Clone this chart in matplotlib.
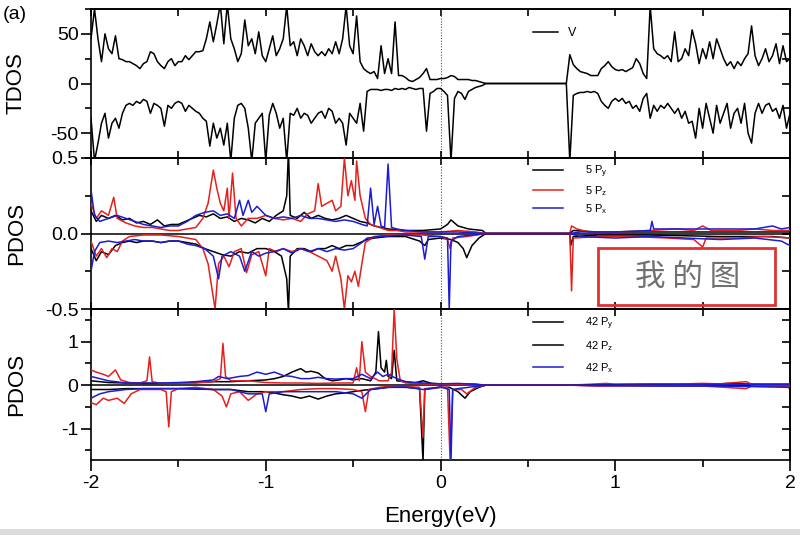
import numpy as np
import matplotlib
matplotlib.use('Agg')
import matplotlib.pyplot as plt
from matplotlib.ticker import MultipleLocator, FormatStrFormatter
from matplotlib.lines import Line2D
from matplotlib.patches import Rectangle

plt.rcParams['font.family'] = ['Liberation Sans', 'DejaVu Sans']
plt.rcParams['mathtext.fontset'] = 'custom'
plt.rcParams['mathtext.rm'] = 'Liberation Sans'
plt.rcParams['axes.unicode_minus'] = False

# energy grid for the total DOS (eV)
energy = np.round(np.arange(-2.0, 2.0001, 0.02), 2)

# TDOS spin up / spin down (E = -2.00 ... 2.00 step 0.02)
tdos_up = [
    45, 75, 45, 22, 50, 35, 30, 48, 25, 24,
    22, 22, 20, 18, 15, 20, 22, 32, 30, 22,
    18, 15, 22, 25, 18, 22, 22, 28, 24, 28,
    32, 32, 33, 45, 62, 42, 60, 80, 40, 80,
    45, 35, 22, 30, 64, 38, 45, 30, 52, 28,
    22, 35, 48, 28, 35, 45, 78, 38, 42, 28,
    45, 38, 28, 40, 32, 28, 32, 28, 35, 30,
    42, 30, 45, 78, 38, 30, 68, 22, 15, 12,
    10, 12, 5, 38, 10, 25, 10, 62, 8, 8,
    6, 3, 2, 4, 6, 10, 15, 4, 4, 4, 5,
    5, 6, 8, 7, 4, 4, 4, 4, 3, 3, 2, 1, 0,
    0, 0, 0, 0, 0, 0, 0, 0, 0, 0, 0, 0, 0, 0, 0, 0, 0, 0, 0, 0, 0, 0, 0,
    29, 19, 15, 12, 11, 10, 8, 8, 8, 15,
    18, 22, 17, 14, 13, 14, 12, 14, 16, 25,
    20, 10, 5, 78, 35, 30, 28, 25, 28, 22,
    52, 22, 25, 35, 28, 54, 40, 20, 35, 25,
    42, 25, 45, 35, 25, 18, 22, 15, 22, 18,
    25, 30, 58, 28, 18, 25, 35, 22, 28, 40,
    20, 38, 22, 25,
]
tdos_dn = [
    -35, -78, -60, -40, -30, -55, -40, -35, -45, -30,
    -22, -20, -22, -18, -20, -16, -18, -30, -20, -22,
    -25, -43, -22, -25, -20, -18, -20, -28, -22, -25,
    -28, -30, -35, -38, -63, -40, -55, -45, -62, -40,
    -78, -35, -22, -20, -25, -45, -78, -40, -35, -30,
    -78, -32, -20, -30, -45, -35, -78, -30, -32, -25,
    -35, -30, -32, -40, -35, -30, -28, -35, -25, -28,
    -40, -35, -40, -62, -30, -35, -40, -20, -48, -8,
    -6, -6, -6, -7, -6, -6, -7, -5, -6, -5,
    -6, -4, -5, -6, -5, -5, -48, -10, -8, -5, -5,
    -8, -12, -78, -15, -8, -10, -16, -8, -6, -4, -3, -2, 0,
    0, 0, 0, 0, 0, 0, 0, 0, 0, 0, 0, 0, 0, 0, 0, 0, 0, 0, 0, 0, 0, 0, 0,
    -78, -12, -10, -9, -9, -8, -9, -8, -10, -18,
    -22, -25, -18, -15, -18, -15, -20, -18, -25, -22,
    -28, -15, -10, -35, -22, -28, -22, -25, -20, -25,
    -30, -25, -35, -28, -40, -38, -55, -25, -45, -20,
    -35, -50, -22, -40, -30, -20, -45, -30, -25, -40,
    -20, -50, -60, -30, -20, -30, -22, -20, -28, -25,
    -35, -22, -45, -30,
]

# PDOS of atom 5, (energy, value) pairs
p5y_up = [(-2.0, 0.15), (-1.97, 0.08), (-1.94, 0.12), (-1.9, 0.1), (-1.86, 0.12), (-1.82, 0.09), (-1.78, 0.1),
          (-1.74, 0.07), (-1.7, 0.08), (-1.66, 0.06), (-1.62, 0.09), (-1.58, 0.05), (-1.54, 0.06), (-1.5, 0.06),
          (-1.46, 0.08), (-1.42, 0.1), (-1.38, 0.12), (-1.34, 0.11), (-1.3, 0.13), (-1.26, 0.1), (-1.22, 0.11),
          (-1.18, 0.08), (-1.14, 0.1), (-1.1, 0.09), (-1.06, 0.07), (-1.02, 0.1), (-0.98, 0.08), (-0.94, 0.12),
          (-0.9, 0.15), (-0.88, 0.25), (-0.87, 0.55), (-0.86, 0.12), (-0.82, 0.1), (-0.78, 0.14), (-0.74, 0.1),
          (-0.7, 0.12), (-0.66, 0.1), (-0.62, 0.09), (-0.58, 0.1), (-0.54, 0.12), (-0.5, 0.1), (-0.46, 0.08),
          (-0.42, 0.07), (-0.38, 0.05), (-0.34, 0.04), (-0.3, 0.03), (-0.2, 0.02), (-0.1, 0.02), (0.0, 0.03),
          (0.04, 0.06), (0.06, 0.09), (0.1, 0.05), (0.16, 0.03), (0.24, 0.02), (0.26, 0.0), (0.74, 0.0),
          (0.76, 0.02), (0.9, 0.01), (1.2, 0.01), (1.6, 0.01), (2.0, 0.01)]
p5z_up = [(-2.0, 0.2), (-1.97, 0.1), (-1.94, 0.15), (-1.9, 0.12), (-1.87, 0.24), (-1.85, 0.1), (-1.8, 0.07),
          (-1.75, 0.05), (-1.7, 0.04), (-1.65, 0.04), (-1.6, 0.03), (-1.55, 0.02), (-1.5, 0.02), (-1.45, 0.03),
          (-1.4, 0.04), (-1.36, 0.1), (-1.33, 0.2), (-1.3, 0.42), (-1.28, 0.3), (-1.26, 0.2), (-1.24, 0.15),
          (-1.22, 0.3), (-1.21, 0.1), (-1.19, 0.4), (-1.17, 0.1), (-1.14, 0.05), (-1.1, 0.1), (-1.05, 0.1),
          (-1.0, 0.12), (-0.95, 0.1), (-0.9, 0.09), (-0.85, 0.1), (-0.8, 0.08), (-0.76, 0.13), (-0.72, 0.15),
          (-0.7, 0.33), (-0.68, 0.18), (-0.65, 0.2), (-0.62, 0.22), (-0.6, 0.15), (-0.57, 0.18), (-0.55, 0.5),
          (-0.53, 0.25), (-0.51, 0.35), (-0.49, 0.22), (-0.48, 0.48), (-0.46, 0.25), (-0.43, 0.1), (-0.4, 0.06),
          (-0.35, 0.04), (-0.3, 0.02), (-0.25, 0.02), (-0.2, 0.01), (0.0, 0.01), (0.1, 0.02), (0.2, 0.01),
          (0.26, 0.0), (0.74, 0.0), (0.75, 0.05), (0.78, 0.03), (0.85, 0.01), (1.0, 0.01), (1.2, 0.02),
          (1.35, 0.03), (1.45, 0.02), (1.5, 0.05), (1.55, 0.02), (1.7, 0.02), (1.8, 0.03), (1.9, 0.02), (2.0, 0.02)]
p5x_up = [(-2.0, 0.29), (-1.98, 0.12), (-1.95, 0.08), (-1.9, 0.1), (-1.85, 0.12), (-1.8, 0.1), (-1.75, 0.08),
          (-1.7, 0.06), (-1.65, 0.05), (-1.6, 0.04), (-1.55, 0.05), (-1.5, 0.05), (-1.45, 0.08), (-1.4, 0.12),
          (-1.35, 0.14), (-1.3, 0.15), (-1.26, 0.12), (-1.22, 0.13), (-1.18, 0.1), (-1.15, 0.22), (-1.13, 0.12),
          (-1.1, 0.22), (-1.08, 0.14), (-1.05, 0.18), (-1.0, 0.12), (-0.95, 0.1), (-0.9, 0.11), (-0.85, 0.1),
          (-0.8, 0.12), (-0.75, 0.1), (-0.7, 0.1), (-0.65, 0.09), (-0.6, 0.08), (-0.55, 0.09), (-0.5, 0.08),
          (-0.45, 0.06), (-0.42, 0.05), (-0.4, 0.3), (-0.38, 0.06), (-0.36, 0.18), (-0.34, 0.05), (-0.32, 0.04),
          (-0.3, 0.46), (-0.28, 0.04), (-0.25, 0.03), (-0.2, 0.02), (-0.1, 0.01), (0.0, 0.01), (0.1, 0.01),
          (0.26, 0.0), (0.74, 0.0), (0.8, 0.01), (1.0, 0.01), (1.2, 0.02), (1.21, 0.08), (1.22, 0.03),
          (1.4, 0.03), (1.6, 0.03), (1.8, 0.03), (1.9, 0.05), (1.95, 0.03), (2.0, 0.04)]
p5y_dn = [(-2.0, -0.1), (-1.97, -0.18), (-1.94, -0.12), (-1.9, -0.14), (-1.86, -0.08), (-1.82, -0.06),
          (-1.78, -0.05), (-1.74, -0.06), (-1.7, -0.05), (-1.65, -0.05), (-1.6, -0.06), (-1.55, -0.05),
          (-1.5, -0.05), (-1.45, -0.06), (-1.4, -0.07), (-1.35, -0.1), (-1.3, -0.12), (-1.25, -0.14),
          (-1.2, -0.15), (-1.15, -0.12), (-1.1, -0.13), (-1.05, -0.1), (-1.0, -0.1), (-0.95, -0.12),
          (-0.91, -0.15), (-0.88, -0.3), (-0.87, -0.52), (-0.86, -0.15), (-0.82, -0.1), (-0.78, -0.1),
          (-0.74, -0.12), (-0.7, -0.1), (-0.66, -0.1), (-0.62, -0.08), (-0.58, -0.1), (-0.54, -0.08),
          (-0.5, -0.08), (-0.46, -0.06), (-0.42, -0.04), (-0.38, -0.03), (-0.3, -0.02), (-0.2, -0.02),
          (-0.12, -0.05), (-0.09, -0.08), (-0.07, -0.04), (0.0, -0.03), (0.06, -0.04), (0.1, -0.06),
          (0.13, -0.1), (0.15, -0.16), (0.18, -0.08), (0.22, -0.03), (0.26, 0.0), (0.74, 0.0), (0.745, -0.08),
          (0.76, -0.02), (0.9, -0.01), (1.2, -0.01), (1.6, -0.02), (1.9, -0.02), (2.0, -0.03)]
p5z_dn = [(-2.0, -0.05), (-1.97, -0.15), (-1.94, -0.1), (-1.91, -0.16), (-1.88, -0.1), (-1.85, -0.12),
          (-1.82, -0.05), (-1.78, -0.02), (-1.7, -0.01), (-1.6, -0.01), (-1.5, -0.02), (-1.45, -0.03),
          (-1.4, -0.04), (-1.36, -0.1), (-1.33, -0.2), (-1.31, -0.35), (-1.29, -0.5), (-1.27, -0.2),
          (-1.24, -0.15), (-1.21, -0.22), (-1.18, -0.12), (-1.14, -0.1), (-1.11, -0.26), (-1.08, -0.14),
          (-1.04, -0.12), (-1.0, -0.28), (-0.98, -0.1), (-0.94, -0.12), (-0.9, -0.1), (-0.85, -0.12),
          (-0.8, -0.1), (-0.75, -0.12), (-0.7, -0.15), (-0.65, -0.18), (-0.62, -0.25), (-0.6, -0.15),
          (-0.57, -0.3), (-0.55, -0.5), (-0.53, -0.28), (-0.51, -0.32), (-0.49, -0.25), (-0.47, -0.35),
          (-0.45, -0.2), (-0.43, -0.06), (-0.38, -0.02), (-0.3, -0.01), (-0.1, -0.01), (0.0, -0.02),
          (0.04, -0.04), (0.055, -0.1), (0.07, -0.03), (0.15, -0.02), (0.26, 0.0), (0.74, 0.0), (0.75, -0.38),
          (0.76, -0.03), (0.9, -0.02), (1.1, -0.02), (1.3, -0.03), (1.45, -0.04), (1.5, -0.09), (1.52, -0.03),
          (1.7, -0.03), (1.85, -0.02), (2.0, -0.03)]
p5x_dn = [(-2.0, -0.25), (-1.98, -0.12), (-1.95, -0.06), (-1.9, -0.05), (-1.85, -0.06), (-1.8, -0.05),
          (-1.75, -0.04), (-1.7, -0.05), (-1.65, -0.05), (-1.6, -0.06), (-1.55, -0.05), (-1.5, -0.05),
          (-1.45, -0.07), (-1.4, -0.08), (-1.35, -0.1), (-1.3, -0.15), (-1.27, -0.3), (-1.25, -0.15),
          (-1.2, -0.12), (-1.15, -0.15), (-1.12, -0.25), (-1.08, -0.12), (-1.04, -0.15), (-1.0, -0.13),
          (-0.95, -0.12), (-0.9, -0.1), (-0.85, -0.13), (-0.8, -0.1), (-0.75, -0.12), (-0.7, -0.1),
          (-0.65, -0.12), (-0.6, -0.1), (-0.55, -0.11), (-0.5, -0.1), (-0.45, -0.06), (-0.42, -0.03),
          (-0.35, -0.02), (-0.2, -0.01), (-0.11, -0.02), (-0.09, -0.17), (-0.07, -0.02), (0.0, -0.02),
          (0.04, -0.03), (0.05, -0.5), (0.06, -0.05), (0.1, -0.02), (0.26, 0.0), (0.74, 0.0), (0.8, -0.02),
          (1.0, -0.03), (1.2, -0.02), (1.4, -0.03), (1.6, -0.04), (1.8, -0.03), (1.95, -0.05), (2.0, -0.08)]

# PDOS of atom 42, (energy, value) pairs
p42y_up = [(-2.0, 0.1), (-1.9, 0.06), (-1.8, 0.05), (-1.7, 0.04), (-1.6, 0.04), (-1.5, 0.05), (-1.4, 0.06),
           (-1.3, 0.08), (-1.2, 0.08), (-1.1, 0.1), (-1.0, 0.12), (-0.95, 0.15), (-0.9, 0.2), (-0.85, 0.3),
           (-0.8, 0.38), (-0.77, 0.3), (-0.74, 0.32), (-0.7, 0.28), (-0.66, 0.15), (-0.62, 0.1), (-0.58, 0.12),
           (-0.54, 0.15), (-0.5, 0.12), (-0.45, 0.15), (-0.4, 0.1), (-0.37, 0.3), (-0.355, 1.23), (-0.34, 0.4),
           (-0.32, 0.3), (-0.31, 0.57), (-0.3, 0.2), (-0.28, 0.15), (-0.265, 0.8), (-0.25, 0.1), (-0.2, 0.08),
           (-0.15, 0.05), (-0.1, 0.1), (-0.05, 0.04), (0.0, 0.03), (0.1, 0.03), (0.2, 0.02), (0.26, 0.0),
           (0.74, 0.0), (0.9, 0.01), (1.2, 0.02), (1.5, 0.01), (1.65, 0.04), (1.8, 0.02), (2.0, 0.02)]
p42z_up = [(-2.0, 0.35), (-1.97, 0.3), (-1.93, 0.25), (-1.9, 0.2), (-1.86, 0.35), (-1.83, 0.12), (-1.78, 0.06),
           (-1.72, 0.05), (-1.68, 0.1), (-1.665, 0.65), (-1.65, 0.08), (-1.6, 0.04), (-1.5, 0.05), (-1.4, 0.05),
           (-1.3, 0.08), (-1.26, 0.15), (-1.245, 0.96), (-1.23, 0.2), (-1.2, 0.1), (-1.1, 0.1), (-1.0, 0.06),
           (-0.9, 0.05), (-0.8, 0.05), (-0.7, 0.04), (-0.6, 0.05), (-0.5, 0.05), (-0.48, 0.4), (-0.465, 0.1),
           (-0.45, 1.0), (-0.43, 0.3), (-0.4, 0.2), (-0.35, 0.1), (-0.3, 0.1), (-0.28, 0.3), (-0.265, 1.75),
           (-0.25, 0.6), (-0.23, 0.1), (-0.2, 0.05), (-0.1, 0.03), (0.0, 0.02), (0.1, 0.02), (0.26, 0.0),
           (0.74, 0.0), (0.85, 0.02), (0.95, 0.04), (1.0, 0.02), (1.4, 0.03), (1.5, 0.04), (1.6, 0.03),
           (1.75, 0.08), (1.78, 0.02), (2.0, 0.02)]
p42x_up = [(-2.0, 0.2), (-1.95, 0.15), (-1.9, 0.1), (-1.8, 0.05), (-1.7, 0.05), (-1.6, 0.05), (-1.5, 0.06),
           (-1.4, 0.08), (-1.3, 0.12), (-1.27, 0.2), (-1.22, 0.15), (-1.15, 0.2), (-1.1, 0.22), (-1.05, 0.3),
           (-1.0, 0.25), (-0.95, 0.3), (-0.9, 0.22), (-0.85, 0.2), (-0.8, 0.15), (-0.75, 0.15), (-0.7, 0.18),
           (-0.65, 0.15), (-0.6, 0.14), (-0.55, 0.15), (-0.5, 0.15), (-0.45, 0.25), (-0.4, 0.15), (-0.36, 0.3),
           (-0.33, 0.2), (-0.3, 0.25), (-0.25, 0.15), (-0.2, 0.08), (-0.1, 0.05), (0.0, 0.03), (0.1, 0.04),
           (0.2, 0.02), (0.26, 0.0), (0.74, 0.0), (0.9, 0.01), (1.2, 0.02), (1.6, 0.02), (2.0, 0.02)]
p42y_dn = [(-2.0, -0.1), (-1.9, -0.1), (-1.8, -0.08), (-1.7, -0.08), (-1.6, -0.08), (-1.5, -0.08), (-1.4, -0.09),
           (-1.3, -0.1), (-1.2, -0.1), (-1.1, -0.15), (-1.0, -0.15), (-0.95, -0.18), (-0.9, -0.22), (-0.85, -0.25),
           (-0.8, -0.3), (-0.75, -0.25), (-0.7, -0.32), (-0.65, -0.25), (-0.6, -0.2), (-0.55, -0.18), (-0.5, -0.15),
           (-0.45, -0.12), (-0.4, -0.1), (-0.3, -0.05), (-0.2, -0.05), (-0.12, -0.08), (-0.1, -1.75),
           (-0.09, -0.1), (0.0, -0.05), (0.05, -0.05), (0.1, -0.15), (0.14, -0.3), (0.17, -0.15), (0.22, -0.05),
           (0.26, 0.0), (0.74, 0.0), (0.9, -0.01), (1.2, -0.01), (1.6, -0.02), (1.98, -0.02), (2.0, -0.08)]
p42z_dn = [(-2.0, -0.4), (-1.97, -0.45), (-1.93, -0.3), (-1.9, -0.35), (-1.85, -0.3), (-1.81, -0.42),
           (-1.77, -0.2), (-1.72, -0.1), (-1.65, -0.1), (-1.6, -0.1), (-1.57, -0.15), (-1.555, -0.96),
           (-1.54, -0.15), (-1.5, -0.08), (-1.4, -0.05), (-1.3, -0.1), (-1.25, -0.25), (-1.225, -0.5),
           (-1.2, -0.2), (-1.15, -0.15), (-1.1, -0.35), (-1.05, -0.2), (-1.0, -0.15), (-0.9, -0.15),
           (-0.8, -0.1), (-0.7, -0.08), (-0.6, -0.08), (-0.5, -0.1), (-0.45, -0.15), (-0.43, -0.61),
           (-0.41, -0.1), (-0.35, -0.05), (-0.3, -0.03), (-0.2, -0.03), (-0.12, -0.05), (-0.1, -1.2),
           (-0.09, -0.08), (0.0, -0.05), (0.04, -0.05), (0.055, -1.75), (0.07, -0.1), (0.12, -0.1),
           (0.15, -0.2), (0.2, -0.05), (0.26, 0.0), (0.74, 0.0), (0.9, -0.02), (1.1, -0.01), (1.5, -0.02),
           (1.75, -0.08), (1.78, -0.02), (2.0, -0.02)]
p42x_dn = [(-2.0, -0.3), (-1.95, -0.2), (-1.9, -0.15), (-1.8, -0.1), (-1.7, -0.08), (-1.6, -0.08), (-1.5, -0.08),
           (-1.4, -0.08), (-1.3, -0.1), (-1.2, -0.1), (-1.1, -0.2), (-1.02, -0.2), (-1.0, -0.61), (-0.98, -0.2),
           (-0.9, -0.15), (-0.8, -0.15), (-0.7, -0.15), (-0.6, -0.15), (-0.5, -0.2), (-0.45, -0.3), (-0.4, -0.1),
           (-0.3, -0.05), (-0.2, -0.04), (-0.1, -0.1), (0.0, -0.04), (0.05, -0.1), (0.06, -1.75), (0.07, -0.1),
           (0.1, -0.08), (0.2, -0.03), (0.26, 0.0), (0.74, 0.0), (0.9, -0.01), (1.2, -0.02), (1.6, -0.02),
           (2.0, -0.05)]

BLACK = '#000000'
RED = '#e5201c'
BLUE = '#1c1cd2'
LW = 1.1

fig = plt.figure(figsize=(8.0, 5.35), dpi=100)
x0, w = 91 / 800, 699 / 800
ax_t = fig.add_axes([x0, 1 - 158 / 535, w, 149 / 535])
ax_m = fig.add_axes([x0, 1 - 309 / 535, w, 151 / 535], sharex=ax_t)
ax_b = fig.add_axes([x0, 1 - 460 / 535, w, 151 / 535], sharex=ax_t)


def draw_pairs(ax, pairs, color):
    e, v = np.array(pairs).T
    ax.plot(e, v, color=color, lw=LW, zorder=3)


# top: total DOS
ax_t.plot(energy, tdos_up, color=BLACK, lw=LW)
ax_t.plot(energy, tdos_dn, color=BLACK, lw=LW)
ax_t.set_ylim(-75, 75)
ax_t.yaxis.set_major_locator(MultipleLocator(50))
ax_t.yaxis.set_minor_locator(MultipleLocator(25))
ax_t.set_ylabel('TDOS', fontsize=16)
ax_t.legend([Line2D([], [], color=BLACK, lw=LW)], ['V'], loc='center left',
            bbox_to_anchor=(0.632, 0.839), frameon=False, fontsize=9,
            handlelength=2.0, handletextpad=0.8, borderpad=0, borderaxespad=0)

# middle: atom 5
ax_m.axhline(0, color=BLACK, lw=LW, zorder=2)
for pairs, c in [(p5y_up, BLACK), (p5z_up, RED), (p5x_up, BLUE),
                 (p5y_dn, BLACK), (p5z_dn, RED), (p5x_dn, BLUE)]:
    draw_pairs(ax_m, pairs, c)
ax_m.set_ylim(-0.5, 0.5)
ax_m.yaxis.set_major_locator(MultipleLocator(0.5))
ax_m.yaxis.set_minor_locator(MultipleLocator(0.25))
ax_m.yaxis.set_major_formatter(FormatStrFormatter('%.1f'))
ax_m.set_ylabel('PDOS', fontsize=16)
h5 = [Line2D([], [], color=c, lw=LW) for c in (BLACK, RED, BLUE)]
ax_m.legend(h5, [r'5 P$_\mathrm{y}$', r'5 P$_\mathrm{z}$', r'5 P$_\mathrm{x}$'], loc='center left',
            bbox_to_anchor=(0.632, 0.79), frameon=False, fontsize=8,
            handlelength=2.7, handletextpad=2.0, labelspacing=0.4, borderpad=0, borderaxespad=0)
ax_m.add_patch(Rectangle((0.7253, 0.0265), 0.2532, 0.3775, transform=ax_m.transAxes,
                         fill=False, edgecolor='#e03232', lw=2.0, zorder=5))
ax_m.text(0.853, 0.21, '我 的 图', transform=ax_m.transAxes, ha='center', va='center',
          fontsize=22, color='#707070', family=['Noto Sans CJK SC', 'DejaVu Sans'], zorder=5)

# bottom: atom 42
ax_b.axhline(0, color=BLACK, lw=LW, zorder=2)
for pairs, c in [(p42y_up, BLACK), (p42z_up, RED), (p42x_up, BLUE),
                 (p42y_dn, BLACK), (p42z_dn, RED), (p42x_dn, BLUE)]:
    draw_pairs(ax_b, pairs, c)
ax_b.set_ylim(-1.72, 1.75)
ax_b.yaxis.set_major_locator(MultipleLocator(1))
ax_b.yaxis.set_minor_locator(MultipleLocator(0.5))
ax_b.set_ylabel('PDOS', fontsize=16)
ax_b.set_xlabel('Energy(eV)', fontsize=16, labelpad=10)
h42 = [Line2D([], [], color=c, lw=LW) for c in (BLACK, BLACK, BLUE)]
ax_b.legend(h42, [r'42 P$_\mathrm{y}$', r'42 P$_\mathrm{z}$', r'42 P$_\mathrm{x}$'], loc='center left',
            bbox_to_anchor=(0.632, 0.762), frameon=False, fontsize=8,
            handlelength=2.7, handletextpad=2.0, labelspacing=0.7, borderpad=0, borderaxespad=0)

ax_b.set_xlim(-2, 2)
ax_b.xaxis.set_major_locator(MultipleLocator(1))
ax_b.xaxis.set_minor_locator(MultipleLocator(0.5))

for ax in (ax_t, ax_m, ax_b):
    ax.axvline(0, color='#555555', lw=0.8, ls=(0, (1, 1.5)), zorder=1)
    for s in ax.spines.values():
        s.set_linewidth(1.2)
    ax.yaxis.set_label_coords(-0.092, 0.5)
    ax.tick_params(axis='y', which='major', direction='out', length=7, width=1.2, labelsize=14, pad=2)
    ax.tick_params(axis='y', which='minor', direction='out', length=4, width=1.2)
    # right ticks point inward
    sec = ax.secondary_yaxis('right')
    sec.yaxis.set_major_locator(ax.yaxis.get_major_locator())
    sec.yaxis.set_minor_locator(ax.yaxis.get_minor_locator())
    sec.tick_params(which='both', direction='in', length=6, width=1.2, labelright=False)
    sec.spines['right'].set_linewidth(1.2)
    # top ticks point inward
    top = ax.secondary_xaxis('top')
    top.xaxis.set_major_locator(MultipleLocator(0.5))
    top.tick_params(direction='in', length=5, width=1.2, labeltop=False)
    top.spines['top'].set_linewidth(1.2)

for ax in (ax_t, ax_m):
    ax.tick_params(axis='x', which='both', direction='in', length=5, width=1.2, labelbottom=False)
ax_b.tick_params(axis='x', which='major', direction='out', length=8, width=1.2, labelsize=14, pad=3)
ax_b.tick_params(axis='x', which='minor', direction='out', length=5, width=1.2)

fig.text(0.003, 0.972, '(a)', fontsize=14, ha='left', va='center')
fig.patches.append(Rectangle((0, 0), 1, 6 / 535, transform=fig.transFigure,
                             facecolor='#dcdcdc', edgecolor='none'))

fig.savefig('out.png', dpi=100)
